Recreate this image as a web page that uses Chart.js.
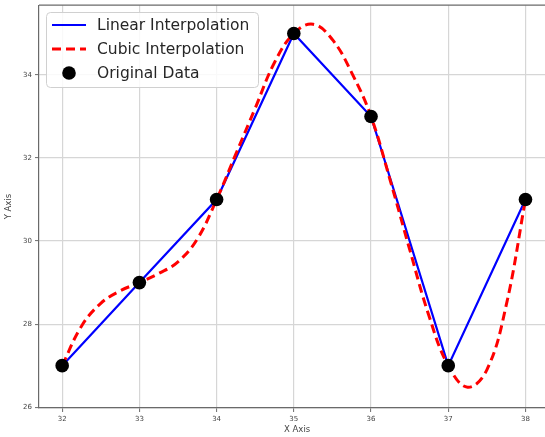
<!DOCTYPE html>
<html>
<head>
<meta charset="utf-8">
<script src="https://cdn.jsdelivr.net/npm/chart.js@4.4.1/dist/chart.umd.min.js"></script>
<style>
  html, body { margin: 0; padding: 0; background: #fff; overflow: hidden; }
  #wrap { position: relative; top: -2px; width: 562px; height: 439px; }
</style>
</head>
<body>
<div id="wrap"><canvas id="chart"></canvas></div>
<script>
// original samples
const xData = [32, 33, 34, 35, 36, 37, 38];
const yData = [27, 29, 31, 35, 33, 27, 31];

// cubic curve, every 0.25
const cubicX = [32, 32.25, 32.5, 32.75, 33, 33.25, 33.5, 33.75, 34, 34.25, 34.5, 34.75,
                35, 35.25, 35.5, 35.75, 36, 36.25, 36.5, 36.75, 37, 37.25, 37.5, 37.75, 38];
const cubicY = [27, 27.95, 28.5, 28.8, 29, 29.22, 29.5, 30.05, 31, 32.1, 33.2, 34.3,
                35, 35.22, 34.85, 34.05, 33, 31.45, 29.8, 28.2, 27, 26.48, 26.9, 28.45, 31];

const xTicks = [32, 33, 34, 35, 36, 37, 38];
const yTicks = [26, 28, 30, 32, 34];

const toPoints = (xs, ys) => xs.map((x, i) => ({x: x, y: ys[i]}));

const axisColor = '#6a6a6a';
const gridColor = '#d6d6d6';

// legend inside the plot + top spine
const boxLegend = {
    id: 'boxLegend',
    afterDatasetsDraw(chart) {
        const ctx = chart.ctx;
        const area = chart.chartArea;
        ctx.save();
        // top spine
        ctx.strokeStyle = axisColor;
        ctx.lineWidth = 1.2;
        ctx.beginPath();
        ctx.moveTo(area.left, area.top);
        ctx.lineTo(area.right, area.top);
        ctx.stroke();

        // box
        const bx = 46.5, by = 14.5, bw = 212, bh = 75, r = 4;
        ctx.beginPath();
        ctx.moveTo(bx + r, by);
        ctx.lineTo(bx + bw - r, by);
        ctx.quadraticCurveTo(bx + bw, by, bx + bw, by + r);
        ctx.lineTo(bx + bw, by + bh - r);
        ctx.quadraticCurveTo(bx + bw, by + bh, bx + bw - r, by + bh);
        ctx.lineTo(bx + r, by + bh);
        ctx.quadraticCurveTo(bx, by + bh, bx, by + bh - r);
        ctx.lineTo(bx, by + r);
        ctx.quadraticCurveTo(bx, by, bx + r, by);
        ctx.closePath();
        ctx.fillStyle = 'rgba(255,255,255,0.85)';
        ctx.fill();
        ctx.strokeStyle = '#d0d0d0';
        ctx.lineWidth = 1;
        ctx.stroke();

        const order = [1, 2, 0]; // linear, cubic, data
        const rows = [27, 51, 75];
        ctx.font = '15.5px "DejaVu Sans"';
        ctx.textBaseline = 'middle';
        order.forEach((di, k) => {
            const ds = chart.data.datasets[di];
            const y = rows[k];
            if (ds.showLine === false) {
                ctx.fillStyle = ds.backgroundColor;
                ctx.beginPath();
                ctx.arc(69, y, ds.pointRadius, 0, Math.PI * 2);
                ctx.fill();
            } else {
                ctx.strokeStyle = ds.borderColor;
                ctx.lineWidth = ds.borderWidth;
                ctx.setLineDash(ds.borderDash || []);
                ctx.beginPath();
                ctx.moveTo(52, y);
                ctx.lineTo(86, y);
                ctx.stroke();
                ctx.setLineDash([]);
            }
            ctx.fillStyle = '#262626';
            ctx.fillText(ds.label, 97, y + 1);
        });
        ctx.restore();
    }
};

const ctx = document.getElementById('chart').getContext('2d');
const chart = new Chart(ctx, {
    type: 'scatter',
    data: {
        datasets: [{
            label: 'Original Data',
            data: toPoints(xData, yData),
            showLine: false,
            backgroundColor: '#000000',
            borderWidth: 0,
            pointRadius: 6.8,
            pointHoverRadius: 6.8,
            order: 0
        }, {
            label: 'Linear Interpolation',
            data: toPoints(xData, yData),
            showLine: true,
            borderColor: '#0000ff',
            backgroundColor: '#0000ff',
            borderWidth: 2.2,
            pointRadius: 0,
            tension: 0,
            order: 2
        }, {
            label: 'Cubic Interpolation',
            data: toPoints(cubicX, cubicY),
            showLine: true,
            borderColor: '#ff0000',
            backgroundColor: '#ff0000',
            borderWidth: 3,
            borderDash: [9, 5],
            pointRadius: 0,
            tension: 0.4,
            order: 1
        }]
    },
    options: {
        responsive: true,
        maintainAspectRatio: false,
        animation: false,
        layout: { padding: { top: 4, left: 0, right: 0, bottom: 0 } },
        plugins: {
            legend: { display: false },
            tooltip: { enabled: false }
        },
        scales: {
            x: {
                type: 'linear',
                min: 31.7,
                max: 38.385,
                afterBuildTicks: axis => { axis.ticks = xTicks.map(v => ({value: v})); },
                afterFit: s => { s.height = 29; },
                grid: { color: gridColor, lineWidth: 1.2, drawTicks: true, tickLength: 4, tickColor: axisColor, tickWidth: 1 },
                border: { color: axisColor, width: 1.2 },
                ticks: { color: '#444', font: { family: 'DejaVu Sans', size: 7 }, padding: 3, maxRotation: 0 },
                title: { display: true, text: 'X Axis', color: '#444', font: { family: 'DejaVu Sans', size: 8.5 }, padding: { top: 0, bottom: 2 } }
            },
            y: {
                min: 25.98,
                max: 35.68,
                afterBuildTicks: axis => { axis.ticks = yTicks.map(v => ({value: v})); },
                afterFit: s => { s.width = 39; },
                grid: { color: gridColor, lineWidth: 1.2, drawTicks: true, tickLength: 4, tickColor: axisColor, tickWidth: 1 },
                border: { color: axisColor, width: 1.2 },
                ticks: { color: '#444', font: { family: 'DejaVu Sans', size: 7 }, padding: 3 },
                title: { display: true, text: 'Y Axis', color: '#444', font: { family: 'DejaVu Sans', size: 8.5 }, padding: { top: 4, bottom: 0 } }
            }
        }
    },
    plugins: [boxLegend]
});
</script>
</body>
</html>
